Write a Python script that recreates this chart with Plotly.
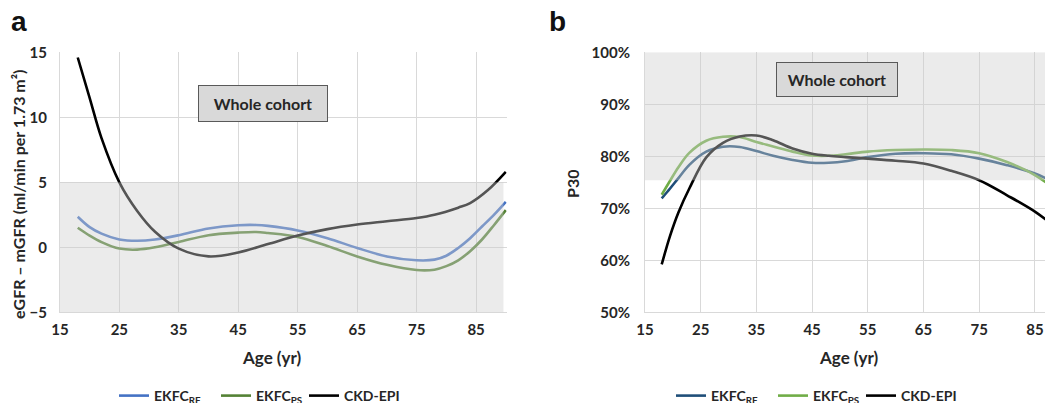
import plotly.graph_objects as go

# ---------------- data ----------------
# Panel a: eGFR - mGFR by age
a_age_ckd = [18, 20, 22, 25, 28, 31, 35, 40, 45, 50, 55, 60, 65, 70, 75, 78, 82, 84, 87, 90]
a_ckd = [14.6, 11.5, 8.4, 5.0, 2.8, 1.2, -0.1, -0.7, -0.4, 0.25, 0.9, 1.4, 1.75, 2.0, 2.25, 2.5, 3.05, 3.4, 4.4, 5.8]

a_age = [18, 20, 22, 25, 28, 31, 35, 40, 45, 48, 50, 55, 60, 65, 70, 75, 78, 80, 82, 84, 86, 88, 90]
a_rf = [2.35, 1.55, 1.05, 0.6, 0.5, 0.6, 0.93, 1.45, 1.7, 1.72, 1.65, 1.3, 0.7, -0.05, -0.7, -1.0, -0.95, -0.65, -0.05, 0.7, 1.6, 2.5, 3.5]
a_ps = [1.5, 0.9, 0.4, -0.1, -0.18, 0.0, 0.41, 0.93, 1.13, 1.18, 1.1, 0.8, 0.1, -0.7, -1.35, -1.75, -1.72, -1.45, -1.0, -0.3, 0.6, 1.7, 2.86]

# Panel b: P30 by age (%)
b_age = [18, 19.5, 21, 23, 26, 29, 32, 35, 38, 41.5, 45, 48, 51, 55, 60, 65, 70, 75, 80, 85, 88.2]
b_ckd = [59.2, 64.7, 69.2, 73.9, 79.8, 82.6, 83.8, 84.0, 83.1, 81.5, 80.5, 80.1, 79.85, 79.55, 79.15, 78.6, 77.2, 75.4, 72.5, 69.35, 66.8]
b_rf = [71.9, 73.8, 75.8, 78.4, 80.9, 81.85, 81.8, 81.0, 80.1, 79.3, 78.75, 78.75, 79.05, 79.85, 80.5, 80.6, 80.4, 79.55, 78.3, 76.7, 75.1]
b_ps = [72.6, 75.3, 77.9, 80.7, 83.0, 83.75, 83.7, 82.75, 81.9, 80.9, 80.15, 80.1, 80.4, 80.9, 81.2, 81.3, 81.2, 80.6, 78.9, 76.4, 74.0]

x_ticks = [15, 25, 35, 45, 55, 65, 75, 85]
a_yticks = [-5, 0, 5, 10, 15]
a_yticklabels = ["−5", "0", "5", "10", "15"]
b_yticks = [50, 60, 70, 80, 90, 100]
b_yticklabels = ["50%", "60%", "70%", "80%", "90%", "100%"]

names = ["EKFC<sub>RF</sub>", "EKFC<sub>PS</sub>", "CKD-EPI"]
a_colors = ["#4472C4", "#548235", "#000000"]
b_colors = ["#1F4E79", "#70AD47", "#000000"]

FONT = "Lato"
TXT = "#262626"
GRID = "#D9D9D9"

fig = go.Figure()

legwidths = [57, 43, 60]
for name, col, xs, ys, lw in zip(names, a_colors, [a_age, a_age, a_age_ckd], [a_rf, a_ps, a_ckd], legwidths):
    fig.add_trace(go.Scatter(x=xs, y=ys, mode="lines", name=name,
                             line=dict(color=col, width=2.6, shape="spline", smoothing=1.0),
                             xaxis="x", yaxis="y", legend="legend", legendwidth=lw))
for name, col, ys, lw in zip(names, b_colors, [b_rf, b_ps, b_ckd], legwidths):
    fig.add_trace(go.Scatter(x=b_age, y=ys, mode="lines", name=name,
                             line=dict(color=col, width=2.6, shape="spline", smoothing=1.0),
                             xaxis="x2", yaxis="y2", legend="legend2", legendwidth=lw))

W, H = 1053, 403
OFF = 8  # default page body margin in the rendered html


def px(x):
    """screen x (pixels) -> paper fraction"""
    return (x - OFF) / W


def py(y):
    """screen y (pixels from top) -> paper fraction"""
    return 1 - (y - OFF) / H


tickfont = dict(family=FONT, size=15, color=TXT, weight="bold")
axis_common = dict(showgrid=True, gridcolor=GRID, gridwidth=1, zeroline=False,
                   showline=True, linecolor=GRID, linewidth=1, ticks="",
                   tickfont=tickfont, fixedrange=True, automargin=False)

legend_common = dict(orientation="h", xanchor="left", yanchor="middle",
                     font=dict(family=FONT, size=14, color=TXT, weight="bold"),
                     bgcolor="rgba(0,0,0,0)", borderwidth=0, itemclick=False)

fig.update_layout(
    width=W, height=H,
    margin=dict(l=0, r=0, t=0, b=0, autoexpand=False),
    paper_bgcolor="white", plot_bgcolor="white",
    showlegend=True,
    xaxis=dict(domain=[px(59.9), px(506.7)], range=[15, 90.15], tickvals=x_ticks,
               ticklabelstandoff=4, anchor="y", **axis_common),
    yaxis=dict(domain=[py(312.3), py(52.3)], range=[-5, 15], tickvals=a_yticks,
               ticktext=a_yticklabels, ticklabelstandoff=9, anchor="x", **axis_common),
    xaxis2=dict(domain=[px(645), px(1053)], range=[15, 88.25], tickvals=x_ticks,
                ticklabelstandoff=4, anchor="y2", **axis_common),
    yaxis2=dict(domain=[py(312.3), py(52.3)], range=[50, 100], tickvals=b_yticks,
                ticktext=b_yticklabels, ticklabelstandoff=11, anchor="x2", **axis_common),
    legend=dict(x=px(114), y=py(396), **legend_common),
    legend2=dict(x=px(671), y=py(396), **legend_common),
)

# shaded acceptance bands (semi-transparent, drawn above the curves)
band_fill = "rgba(206,206,206,0.41)"
fig.add_shape(type="rect", xref="x", yref="y", x0=15, x1=89.6, y0=-5, y1=5,
              fillcolor=band_fill, line_width=0, layer="above")
fig.add_shape(type="rect", xref="x2", yref="y2", x0=15, x1=88.25, y0=75.4, y1=100,
              fillcolor=band_fill, line_width=0, layer="above")

box = dict(text="<b>Whole cohort</b>", showarrow=False, bgcolor="#D9D9D9",
           bordercolor="#595959", borderwidth=1, borderpad=3,
           font=dict(family=FONT, size=16, color=TXT))
fig.add_annotation(x=49.2, y=11.06, xref="x", yref="y", width=122, height=29, **box)
fig.add_annotation(x=49.5, y=94.8, xref="x2", yref="y2", width=114, height=27, **box)

title_font = dict(family=FONT, size=17, color=TXT, weight="bold")
fig.add_annotation(text="Age (yr)", x=px(271), y=py(357), xref="paper", yref="paper",
                   showarrow=False, font=title_font, xanchor="center", yanchor="middle")
fig.add_annotation(text="Age (yr)", x=px(848), y=py(357), xref="paper", yref="paper",
                   showarrow=False, font=title_font, xanchor="center", yanchor="middle")
fig.add_annotation(text="eGFR – mGFR (ml/min per 1.73 m²)", x=px(18), y=py(194),
                   xref="paper", yref="paper", showarrow=False, textangle=-90,
                   font=dict(family=FONT, size=16, color=TXT, weight="bold"),
                   xanchor="center", yanchor="middle")
fig.add_annotation(text="P30", x=px(572), y=py(184), xref="paper", yref="paper",
                   showarrow=False, textangle=-90,
                   font=dict(family=FONT, size=16, color=TXT, weight="bold"),
                   xanchor="center", yanchor="middle")

panel_font = dict(family="Liberation Sans", size=28, color="#111111", weight="bold")
fig.add_annotation(text="a", x=px(19), y=py(22), xref="paper", yref="paper",
                   showarrow=False, font=panel_font, xanchor="center", yanchor="middle")
fig.add_annotation(text="b", x=px(558), y=py(22), xref="paper", yref="paper",
                   showarrow=False, font=panel_font, xanchor="center", yanchor="middle")

fig.write_html("out.html")
